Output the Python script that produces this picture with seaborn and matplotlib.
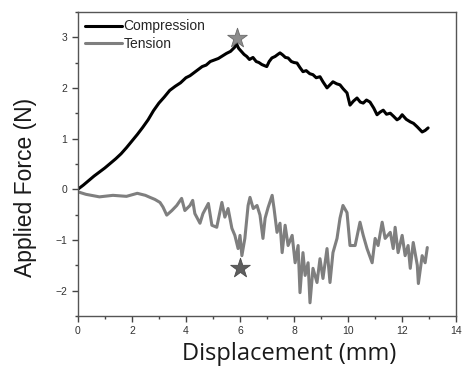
import numpy as np
import pandas as pd
import matplotlib
matplotlib.use("Agg")
import matplotlib.pyplot as plt
import seaborn as sns

# Compression curve (displacement mm, force N)
comp_x = [0.0, 0.2, 0.4, 0.6, 0.8, 1.0, 1.2, 1.4, 1.6, 1.8, 2.0, 2.2, 2.4, 2.6, 2.8,
          3.0, 3.2, 3.4, 3.6, 3.8, 4.0, 4.15, 4.3, 4.45, 4.6, 4.75, 4.9, 5.05, 5.2,
          5.35, 5.5, 5.65, 5.8, 5.88, 5.95, 6.05, 6.15, 6.25, 6.35, 6.48, 6.6, 6.7,
          6.81, 6.9, 6.99, 7.08, 7.18, 7.3, 7.4, 7.48, 7.58, 7.68, 7.78, 7.9, 8.0,
          8.11, 8.22, 8.33, 8.45, 8.58, 8.7, 8.82, 8.96, 9.07, 9.22, 9.33, 9.44,
          9.58, 9.70, 9.82, 9.96, 10.07, 10.2, 10.33, 10.45, 10.56, 10.68, 10.81,
          10.95, 11.07, 11.18, 11.30, 11.42, 11.56, 11.68, 11.81, 11.9, 12.0,
          12.15, 12.30, 12.42, 12.56, 12.65, 12.74, 12.85, 12.96]
comp_y = [0.0, 0.08, 0.17, 0.26, 0.34, 0.42, 0.51, 0.6, 0.7, 0.82, 0.95, 1.08, 1.22,
          1.37, 1.55, 1.70, 1.82, 1.95, 2.03, 2.10, 2.2, 2.24, 2.3, 2.36, 2.42, 2.45,
          2.52, 2.55, 2.58, 2.63, 2.68, 2.72, 2.8, 2.86, 2.78, 2.72, 2.66, 2.62,
          2.56, 2.6, 2.52, 2.5, 2.46, 2.44, 2.42, 2.52, 2.59, 2.62, 2.66, 2.69,
          2.65, 2.6, 2.59, 2.52, 2.5, 2.49, 2.4, 2.32, 2.34, 2.28, 2.26, 2.2, 2.22,
          2.12, 2.0, 2.06, 2.12, 2.08, 2.06, 1.98, 1.90, 1.66, 1.74, 1.80, 1.72,
          1.70, 1.76, 1.72, 1.6, 1.47, 1.52, 1.56, 1.48, 1.50, 1.44, 1.37, 1.4,
          1.47, 1.38, 1.33, 1.3, 1.23, 1.18, 1.13, 1.16, 1.21]

# Tension curve
tens_x = [0.0, 0.3, 0.8, 1.3, 1.8, 2.2, 2.5, 2.67, 2.85, 3.04, 3.15, 3.29, 3.48, 3.66,
          3.84, 3.96, 4.15, 4.25, 4.33, 4.52, 4.63, 4.83, 4.96, 5.14, 5.33, 5.44,
          5.56, 5.70, 5.81, 5.93, 6.0, 6.07, 6.18, 6.30, 6.37, 6.49, 6.63, 6.74,
          6.85, 6.93, 7.04, 7.19, 7.26, 7.37, 7.48, 7.56, 7.67, 7.78, 7.93, 8.04,
          8.15, 8.22, 8.33, 8.41, 8.52, 8.59, 8.70, 8.85, 8.96, 9.07, 9.22, 9.33,
          9.44, 9.59, 9.70, 9.81, 9.96, 10.07, 10.26, 10.44, 10.56, 10.70, 10.89,
          11.0, 11.11, 11.26, 11.37, 11.56, 11.67, 11.74, 11.85, 12.0, 12.11,
          12.22, 12.30, 12.41, 12.56, 12.60, 12.74, 12.85, 12.93]
tens_y = [-0.05, -0.1, -0.15, -0.12, -0.14, -0.08, -0.12, -0.16, -0.2, -0.26, -0.35,
          -0.51, -0.42, -0.32, -0.18, -0.42, -0.32, -0.22, -0.48, -0.67, -0.48,
          -0.28, -0.71, -0.75, -0.26, -0.55, -0.38, -0.77, -0.91, -1.17, -0.91,
          -1.31, -0.97, -0.32, -0.16, -0.38, -0.32, -0.51, -0.97, -0.57, -0.36,
          -0.12, -0.38, -0.85, -0.67, -1.25, -0.71, -1.11, -0.91, -1.45, -1.11,
          -2.04, -1.25, -1.70, -1.45, -2.24, -1.56, -1.84, -1.37, -1.76, -1.17,
          -1.84, -1.25, -0.97, -0.57, -0.32, -0.46, -1.11, -1.11, -0.65, -0.91,
          -1.17, -1.45, -0.97, -1.11, -0.65, -0.97, -0.85, -1.17, -0.75, -1.25,
          -0.91, -1.31, -1.11, -1.56, -1.05, -1.50, -1.86, -1.31, -1.45, -1.15]

star_x = [5.88, 6.0]
star_y = [2.99, -1.55]

x_ticks = [0, 2, 4, 6, 8, 10, 12, 14]
y_ticks = [-2, -1, 0, 1, 2, 3]

sns.set_style("white")
plt.rcParams['font.family'] = ['Liberation Sans', 'DejaVu Sans']

fig = plt.figure(figsize=(4.66, 3.70), dpi=100)
ax = fig.add_axes([0.167, 0.146, 0.812, 0.822])

df_c = pd.DataFrame({"x": comp_x, "y": comp_y})
df_t = pd.DataFrame({"x": tens_x, "y": tens_y})
sns.lineplot(data=df_c, x="x", y="y", ax=ax, color="black", lw=2.2, sort=False,
             estimator=None, label="Compression")
sns.lineplot(data=df_t, x="x", y="y", ax=ax, color="#7f7f7f", lw=2.2, sort=False,
             estimator=None, label="Tension")
sns.scatterplot(x=star_x[:1], y=star_y[:1], ax=ax, marker="*", s=220, color="#8c8c8c",
                edgecolor="#6a6a6a", linewidth=0.6, zorder=5, legend=False)
sns.scatterplot(x=star_x[1:], y=star_y[1:], ax=ax, marker="*", s=220, color="#5e5e5e",
                edgecolor="#4a4a4a", linewidth=0.6, zorder=5, legend=False)

ax.set_xlim(0, 14)
ax.set_ylim(-2.5, 3.5)
ax.set_xticks(x_ticks)
ax.set_yticks(y_ticks)
ax.set_xticks(np.arange(1, 14, 2), minor=True)
ax.set_yticks(np.arange(-2.5, 3.6, 1.0), minor=True)
ax.tick_params(axis="both", which="major", direction="out", length=4, width=1,
               colors="#444444", labelsize=7.5, labelcolor="#333333")
ax.tick_params(axis="both", which="minor", direction="out", length=2.5, width=1,
               colors="#444444")
ax.tick_params(bottom=True, left=True, which="both")
for s in ax.spines.values():
    s.set_color("#555555")
    s.set_linewidth(1.0)

ax.set_xlabel("Displacement (mm)", fontsize=17, family=["Open Sans", "DejaVu Sans"],
              color="#1a1a1a")
ax.set_ylabel("Applied Force (N)", fontsize=16.5, family=["Liberation Sans", "DejaVu Sans"],
              color="#1a1a1a")
ax.xaxis.set_label_coords(0.558, -0.085)
ax.yaxis.set_label_coords(-0.107, 0.424)

leg = ax.legend(loc="upper left", frameon=False, fontsize=10, handlelength=2.6,
                handletextpad=0.15, borderaxespad=0.15, labelspacing=0.25)

fig.savefig("out.png", dpi=100)
